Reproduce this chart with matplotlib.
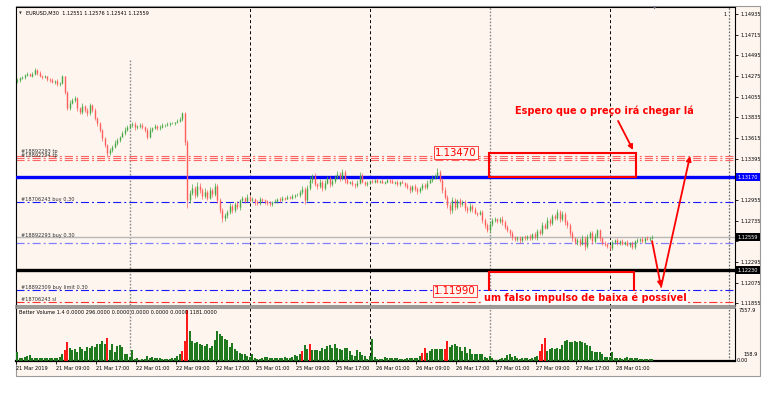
import numpy as np
import matplotlib.pyplot as plt
from matplotlib.patches import Rectangle

plt.rcParams['lines.scale_dashes'] = False

# ---- data (EURUSD M30, 21-28 Mar 2019) ----
first_open = 1.1422
close = [
    1.1423, 1.1425, 1.1426, 1.1429, 1.1430, 1.1428, 1.1430, 1.1434, 1.1431, 1.1428,
    1.1426, 1.1427, 1.1424, 1.1423, 1.1421, 1.1422, 1.1419, 1.1420, 1.1427, 1.1410,
    1.1393, 1.1399, 1.1402, 1.1404, 1.1393, 1.1389, 1.1396, 1.1391, 1.1388, 1.1397,
    1.1391, 1.1383, 1.1377, 1.1370, 1.1361, 1.1354, 1.1345, 1.1349, 1.1352, 1.1356,
    1.1359, 1.1363, 1.1367, 1.1370, 1.1373, 1.1375, 1.1376, 1.1373, 1.1374, 1.1375,
    1.1373, 1.1370, 1.1363, 1.1370, 1.1372, 1.1374, 1.1372, 1.1373, 1.1375, 1.1375,
    1.1376, 1.1377, 1.1377, 1.1378, 1.1380, 1.1382, 1.1388, 1.1357, 1.1295, 1.1303,
    1.1308, 1.1301, 1.1310, 1.1306, 1.1300, 1.1304, 1.1298, 1.1306, 1.1302, 1.1310,
    1.1295, 1.1285, 1.1276, 1.1279, 1.1283, 1.1289, 1.1285, 1.1291, 1.1288, 1.1295,
    1.1298, 1.1294, 1.1299, 1.1295, 1.1297, 1.1293, 1.1292, 1.1297, 1.1295, 1.1294,
    1.1292, 1.1291, 1.1293, 1.1294, 1.1297, 1.1295, 1.1298, 1.1297, 1.1299, 1.1298,
    1.1300, 1.1301, 1.1301, 1.1304, 1.1307, 1.1295, 1.1308, 1.1317, 1.1321, 1.1312,
    1.1310, 1.1315, 1.1308, 1.1314, 1.1319, 1.1312, 1.1316, 1.1320, 1.1323, 1.1319,
    1.1325, 1.1317, 1.1314, 1.1315, 1.1312, 1.1311, 1.1314, 1.1322, 1.1315, 1.1312,
    1.1314, 1.1316, 1.1315, 1.1317, 1.1315, 1.1316, 1.1314, 1.1315, 1.1317, 1.1316,
    1.1314, 1.1315, 1.1312, 1.1315, 1.1314, 1.1311, 1.1309, 1.1306, 1.1310, 1.1307,
    1.1305, 1.1308, 1.1311, 1.1309, 1.1314, 1.1317, 1.1319, 1.1321, 1.1325, 1.1317,
    1.1306, 1.1299, 1.1290, 1.1285, 1.1295, 1.1288, 1.1295, 1.1291, 1.1293, 1.1287,
    1.1285, 1.1289, 1.1286, 1.1282, 1.1281, 1.1283, 1.1274, 1.1269, 1.1263, 1.1270,
    1.1274, 1.1275, 1.1273, 1.1275, 1.1272, 1.1267, 1.1263, 1.1260, 1.1256, 1.1254,
    1.1255, 1.1253, 1.1256, 1.1255, 1.1257, 1.1255, 1.1259, 1.1256, 1.1262, 1.1260,
    1.1269, 1.1266, 1.1274, 1.1271, 1.1278, 1.1276, 1.1283, 1.1275, 1.1281, 1.1272,
    1.1269, 1.1260, 1.1255, 1.1251, 1.1253, 1.1249, 1.1255, 1.1246, 1.1256, 1.1260,
    1.1252, 1.1257, 1.1263, 1.1255, 1.1250, 1.1249, 1.1246, 1.1244, 1.1251, 1.1253,
    1.1250, 1.1252, 1.1249, 1.1251, 1.1248, 1.1250, 1.1245, 1.1252, 1.1253, 1.1254,
    1.1252, 1.1255, 1.1254, 1.1255, 1.12559,
]
# wick lengths above/below the body, in pips
upper_wick = [
    2, 1, 2, 1, 2, 1, 2, 2, 1, 2, 1, 2, 1, 1, 2, 1, 2, 1, 2, 1,
    2, 3, 2, 2, 1, 2, 3, 1, 2, 2, 1, 2, 1, 2, 1, 2, 1, 2, 2, 3,
    2, 1, 2, 3, 2, 1, 2, 3, 1, 2, 2, 1, 2, 3, 1, 2, 1, 2, 2, 1,
    2, 1, 2, 1, 2, 2, 1, 1, 2, 3, 4, 2, 5, 3, 2, 4, 2, 3, 2, 4,
    2, 3, 2, 3, 2, 3, 2, 2, 3, 2, 2, 1, 3, 2, 2, 1, 2, 2, 1, 2,
    1, 2, 1, 2, 1, 2, 2, 1, 2, 1, 2, 1, 2, 2, 3, 2, 3, 4, 2, 3,
    2, 3, 2, 3, 2, 2, 3, 2, 3, 2, 3, 2, 2, 1, 2, 2, 3, 3, 2, 1,
    2, 1, 2, 1, 2, 1, 2, 1, 2, 1, 2, 1, 2, 1, 2, 1, 2, 2, 1, 2,
    2, 1, 2, 2, 3, 2, 3, 2, 4, 2, 2, 3, 2, 3, 4, 3, 2, 3, 2, 2,
    2, 3, 2, 2, 1, 2, 2, 2, 2, 3, 2, 2, 1, 2, 3, 2, 2, 2, 2, 1,
    2, 2, 1, 2, 1, 2, 1, 2, 2, 3, 3, 2, 3, 2, 3, 2, 3, 2, 3, 2,
    2, 2, 2, 1, 2, 2, 3, 2, 3, 2, 2, 3, 2, 2, 1, 2, 1, 2, 2, 1,
    2, 1, 2, 1, 2, 1, 2, 1, 2, 1, 2, 1, 2, 1, 2,
]
lower_wick = [
    2, 2, 1, 2, 2, 1, 2, 1, 2, 2, 2, 1, 2, 2, 1, 2, 2, 2, 1, 2,
    2, 2, 1, 2, 3, 2, 2, 2, 3, 2, 2, 2, 3, 2, 3, 2, 4, 2, 2, 1,
    2, 2, 1, 2, 1, 2, 2, 3, 2, 2, 2, 2, 3, 2, 2, 1, 2, 2, 1, 2,
    1, 2, 1, 2, 1, 2, 2, 3, 8, 3, 2, 3, 2, 3, 4, 2, 3, 2, 3, 2,
    3, 3, 4, 3, 3, 2, 3, 2, 2, 3, 2, 2, 1, 2, 2, 3, 2, 2, 2, 3,
    2, 2, 2, 1, 2, 2, 1, 2, 1, 2, 1, 2, 1, 2, 2, 4, 2, 2, 3, 2,
    3, 2, 3, 2, 2, 3, 2, 2, 2, 3, 2, 3, 2, 2, 2, 3, 2, 2, 2, 2,
    2, 2, 1, 2, 2, 2, 1, 2, 2, 2, 1, 2, 2, 2, 1, 2, 2, 3, 2, 2,
    3, 2, 2, 2, 2, 1, 2, 1, 2, 2, 3, 3, 3, 5, 3, 3, 2, 3, 2, 3,
    3, 2, 3, 2, 3, 2, 3, 3, 2, 3, 2, 2, 2, 2, 3, 2, 2, 3, 3, 2,
    2, 3, 2, 2, 2, 2, 2, 2, 3, 2, 2, 2, 2, 3, 2, 2, 2, 3, 2, 3,
    3, 3, 3, 2, 3, 3, 2, 4, 2, 2, 3, 2, 2, 3, 3, 3, 2, 2, 2, 2,
    2, 2, 2, 2, 2, 3, 2, 2, 2, 2, 2, 2, 1, 2, 1,
]
volume = [
    1350, 500, 500, 600, 750, 850, 500, 500, 500, 400,
    500, 500, 400, 400, 400, 500, 500, 600, 1100, 1650,
    2850, 1900, 1600, 1750, 1400, 2100, 1750, 1500, 2100, 1900,
    2250, 2100, 2500, 2600, 3000, 2500, 3400, 1600, 2600, 1400,
    2250, 2400, 2100, 1100, 1000, 600, 1600, 250, 500, 150,
    250, 250, 750, 500, 600, 500, 500, 500, 350, 350,
    250, 350, 500, 400, 750, 1000, 1500, 3000, 7558, 4500,
    3000, 2750, 2900, 2500, 2350, 2250, 2600, 2000, 2250, 3100,
    4500, 4100, 3750, 3250, 3100, 2100, 2750, 1750, 1500, 1250,
    1000, 1000, 750, 600, 1000, 500, 250, 250, 500, 600,
    600, 500, 400, 500, 500, 400, 500, 600, 400, 500,
    600, 850, 750, 1000, 1500, 2350, 1750, 2600, 1600, 1600,
    1600, 1500, 2000, 1750, 2250, 2400, 2000, 2500, 2000, 1750,
    1600, 2000, 2000, 1500, 900, 750, 1600, 1350, 850, 750,
    350, 750, 3250, 600, 250, 250, 250, 600, 500, 500,
    400, 400, 400, 250, 250, 250, 400, 500, 500, 500,
    500, 750, 1250, 2000, 1250, 1500, 1850, 1750, 1750, 1750,
    1750, 1850, 3000, 2100, 2400, 2600, 2250, 2100, 1500, 2100,
    1250, 1750, 1000, 1000, 1000, 1000, 1100, 600, 500, 750,
    500, 150, 150, 250, 400, 500, 900, 1000, 600, 750,
    500, 250, 400, 500, 400, 350, 400, 600, 750, 1500,
    2600, 3400, 1500, 1750, 2000, 1750, 2000, 1750, 2400, 3000,
    3150, 2900, 2900, 3000, 2900, 3000, 2900, 2750, 2400, 2250,
    1500, 1400, 1400, 1400, 1000, 600, 600, 600, 1400, 500,
    400, 400, 250, 500, 600, 500, 500, 500, 400, 250,
    250, 350, 350, 350, 250,
]
climax_bars = [19, 20, 36, 66, 67, 68, 114, 117, 162, 163, 171, 172, 209, 210, 211]

time_ticks = [0, 16, 32, 48, 64, 80, 96, 112, 128, 144, 160, 176, 192, 208, 224, 240]
time_labels = ['21 Mar 2019', '21 Mar 09:00', '21 Mar 17:00', '22 Mar 01:00',
               '22 Mar 09:00', '22 Mar 17:00', '25 Mar 01:00', '25 Mar 09:00',
               '25 Mar 17:00', '26 Mar 01:00', '26 Mar 09:00', '26 Mar 17:00',
               '27 Mar 01:00', '27 Mar 09:00', '27 Mar 17:00', '28 Mar 01:00']
day_starts = [46, 94, 142, 190, 238]
price_ticks = [1.11855, 1.12075, 1.12295, 1.12515, 1.12735, 1.12955, 1.13175, 1.13395,
               1.13615, 1.13835, 1.14055, 1.14275, 1.14495, 1.14715, 1.14935]
hidden_ticks = [1.12515, 1.13175]   # covered by the coloured line labels

tp_levels = [1.13428, 1.13402, 1.13375]
resistance = 1.13199
buy1 = 1.12930
bid = 1.12559
buy2 = 1.12499
support = 1.12205
buy_limit = 1.11996
stop_loss = 1.11865

BG = '#fef5ee'
UP = '#45a845'
DOWN = '#ff5c5c'
W, H = 784, 395


def fx(px):
    return px / W


def fy(py):
    return 1 - py / H


fig = plt.figure(figsize=(W / 100, H / 100), dpi=100)
fig.patch.set_facecolor('white')
fig.patches.append(Rectangle((fx(16), fy(376)), fx(760) - fx(16), fy(6) - fy(376),
                             transform=fig.transFigure, facecolor=BG,
                             edgecolor='#9a9a9a', lw=0.8, zorder=-5))

ax = fig.add_axes([fx(16), fy(306), fx(735) - fx(16), fy(7) - fy(306)])
vax = fig.add_axes([fx(16), fy(361), fx(735) - fx(16), fy(308) - fy(361)], sharex=ax)
for a in (ax, vax):
    a.set_facecolor(BG)
    for s in a.spines.values():
        s.set_color('black')
        s.set_linewidth(0.8)
ax.spines['bottom'].set_color('#8a8a8a')
ax.spines['bottom'].set_linewidth(1.2)
vax.spines['top'].set_color('#8a8a8a')
vax.spines['top'].set_linewidth(1.2)
vax.spines['bottom'].set_linewidth(1.6)

n = len(close)
x = np.arange(n)
c = np.array(close)
o = np.array([first_open] + close[:-1])
hi = np.maximum(o, c) + np.array(upper_wick) * 1e-4
lo = np.minimum(o, c) - np.array(lower_wick) * 1e-4
cols = [UP if cc >= oo else DOWN for oo, cc in zip(o, c)]

ax.set_xlim(-0.4, 287.2)
ax.set_ylim(1.11825, 1.15010)

# separators
dash = (0, (2.2, 1.8))
dot = (0, (1.2, 1.2))
for d in day_starts:
    if d in (46, 190):
        continue
    for a in (ax, vax):
        a.axvline(d - 0.8, color='black', lw=0.7, ls=dash, zorder=1)
ax.plot([45.2, 45.2], [1.14445, 1.11825], color='#8c8c8c', lw=1.0, ls=dot, zorder=1)
vax.axvline(45.2, color='#8c8c8c', lw=1.0, ls=dot, zorder=1)
for a in (ax, vax):
    a.axvline(189.2, color='#8c8c8c', lw=1.0, ls=dot, zorder=1)
    a.axvline(284.8, color='#6a6a6a', lw=0.9, ls=dot, zorder=1)

# horizontal levels
dd = (0, (5.8, 2.2, 1.4, 2.2))
for lv in tp_levels:
    ax.axhline(lv, color='#ff6464', lw=0.8, ls=dd, zorder=2)
ax.axhline(resistance, color='#0000ff', lw=2.4, zorder=3)
ax.axhline(buy1, color='#1a1aff', lw=0.8, ls=dd, zorder=2)
ax.axhline(bid, color='#b8b8b8', lw=1.0, zorder=2)
ax.axhline(buy2, color='#8080ff', lw=0.9, ls=dd, zorder=2)
ax.axhline(support, color='black', lw=2.4, zorder=3)
ax.axhline(buy_limit, color='#1a1aff', lw=0.8, ls=dd, zorder=2)
ax.axhline(stop_loss, color='#ff3030', lw=0.8, ls=dd, zorder=2)

# candles
ax.vlines(x, lo, hi, colors=cols, lw=0.5, zorder=4)
ax.vlines(x, np.minimum(o, c), np.maximum(o, c), colors=cols, lw=1.0, zorder=4)

small = 3.6
ax.text(1.5, 1.13445, '#18892293 tp', fontsize=small, va='bottom', color='#303030', zorder=5)
ax.text(1.5, 1.13405, '#18892294 tp', fontsize=small, va='bottom', color='#303030', zorder=5)
ax.text(1.5, buy1, '#18706243 buy 0.30', fontsize=small, va='bottom', color='#303030', zorder=5)
ax.text(1.5, bid - 0.00005, '#18892293 buy 0.30', fontsize=small, va='bottom', color='#303030', zorder=5)
ax.text(1.5, buy_limit, '#18892309 buy limit 0.30', fontsize=small, va='bottom', color='#303030', zorder=5)
ax.text(1.5, stop_loss, '#18706243 sl', fontsize=small, va='bottom', color='#303030', zorder=5)

# price axis
ax.yaxis.tick_right()
ax.set_yticks(price_ticks)
ax.set_yticklabels(['' if p in hidden_ticks else f'{p:.5f}' for p in price_ticks])
ax.tick_params(axis='y', labelsize=small, length=2, pad=2, width=0.6)
ax.tick_params(axis='x', bottom=False, labelbottom=False)
for p, txt, bg in [(resistance, '1.13170', '#0000ff'), (bid, '1.12559', 'black'),
                   (support, '1.12230', 'black')]:
    ax.text(1.004, p, txt, transform=ax.get_yaxis_transform(), fontsize=small,
            color='white', va='center', ha='left', clip_on=False, zorder=10,
            bbox=dict(boxstyle='square,pad=0.3', fc=bg, ec='none'))

# annotations drawn by the trader
ax.add_patch(Rectangle((188.8, 1.13199), 58.8, 0.00256, fill=False, ec='red', lw=1.5, zorder=6))
ax.add_patch(Rectangle((188.8, 1.11885), 58.0, 0.00303, fill=False, ec='red', lw=1.5, zorder=6))
ax.text(175.4, 1.13460, '1.13470', color='red', fontsize=7.3, ha='center', va='center', zorder=8,
        bbox=dict(boxstyle='square,pad=0.12', fc=BG, ec='#ff4040', lw=0.7))
ax.text(175.0, 1.11985, '1.11990', color='red', fontsize=7.3, ha='center', va='center', zorder=8,
        bbox=dict(boxstyle='square,pad=0.12', fc=BG, ec='#ff4040', lw=0.7))
ax.text(199.2, 1.13902, 'Espero que o preço irá chegar lá', color='red', fontsize=7,
        fontweight='bold', va='center', ha='left', zorder=8)
ax.text(186.6, 1.11915, 'um falso impulso de baixa é possível', color='red', fontsize=7,
        fontweight='bold', va='center', ha='left', zorder=9, clip_on=False,
        bbox=dict(boxstyle='square,pad=0.15', fc='white', ec='none'))
arrow = dict(arrowstyle='-|>', color='red', lw=1.3, mutation_scale=7, shrinkA=0, shrinkB=0)
ax.annotate('', xy=(246.4, 1.13487), xytext=(240.4, 1.13796), arrowprops=arrow, zorder=8)
ax.annotate('', xy=(257.6, 1.12028), xytext=(254.0, 1.12517), arrowprops=arrow, zorder=8)
ax.annotate('', xy=(269.2, 1.13423), xytext=(257.6, 1.12028), arrowprops=arrow, zorder=8)

# volume panel
vcols = ['#ff1a1a' if i in climax_bars else '#1f7a1f' for i in range(n)]
vax.bar(x, volume, width=0.8, color=vcols, lw=0, zorder=3)
vax.set_ylim(0, 7930)
vax.set_yticks([])
vax.set_xticks([t - 0.6 for t in time_ticks])
vax.set_xticklabels(time_labels)
vax.tick_params(axis='x', labelsize=small, length=2, pad=1.5, width=0.6)
for lbl in vax.get_xticklabels():
    lbl.set_ha('left')

# chart header and panel captions
fig.text(fx(19), fy(13.5), '▼', fontsize=2.6, va='center', color='#404040')
fig.text(fx(26), fy(13.5), 'EURUSD,M30  1.12551 1.12576 1.12541 1.12559', fontsize=small, va='center')
fig.text(fx(724), fy(14), '1', fontsize=small, va='center')
fig.text(fx(655), fy(8.5), '▼', fontsize=3, va='center', ha='center', color='#707080')
fig.text(fx(19), fy(313), 'Better Volume 1.4 0.0000 296.0000 0.0000 0.0000 0.0000 0.0000 1181.0000',
         fontsize=small, va='center')
fig.text(fx(739), fy(311), '7557.9', fontsize=small, va='center')
fig.text(fx(744), fy(355), '158.9', fontsize=small, va='center')
fig.text(fx(737), fy(361), '0.00', fontsize=small, va='center')

fig.savefig('out.png', dpi=100, facecolor=fig.get_facecolor())
